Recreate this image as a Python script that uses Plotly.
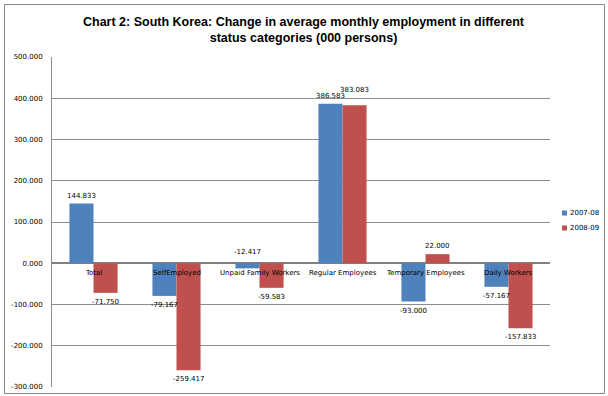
import plotly.graph_objects as go

categories = ["Total", "SelfEmployed", "Unpaid Family Workers", "Regular Employees",
              "Temporary Employees", "Daily Workers"]
series_names = ["2007-08", "2008-09"]
values_0708 = [144.833, -79.167, -12.417, 386.583, -93.000, -57.167]
values_0809 = [-71.750, -259.417, -59.583, 383.083, 22.000, -157.833]
y_ticks = [-300, -200, -100, 0, 100, 200, 300, 400, 500]
colors = ["#4F81BD", "#C0504D"]
title_text = ("<b>Chart 2: South Korea: Change in average monthly employment in different<br>"
              "status categories (000 persons)</b>")

W, H = 608, 396
ML, MR, MT, MB = 52, 58, 57, 9
PH = H - MT - MB
PW = W - ML - MR

def py(px):  # pixel y from top -> paper
    return (H - MB - px) / PH

def pxx(px):  # pixel x from left -> paper
    return (px - ML) / PW

small = dict(size=7, family="DejaVu Sans", color="#000000")

fig = go.Figure()
series = [values_0708, values_0809]
for i, (name, vals, col) in enumerate(zip(series_names, series, colors)):
    fig.add_trace(go.Bar(
        x=categories, y=vals, name=name, offsetgroup=str(i),
        marker=dict(color=col, line=dict(width=0)),
        showlegend=False,
    ))

# data labels
n = len(series)
for i, vals in enumerate(series):
    for j, (c, v) in enumerate(zip(categories, vals)):
        if v >= 0:
            y, ya, ys = v, "bottom", 2
            # avoid overlap with the neighbouring positive label
            if i > 0 and series[i - 1][j] >= 0 and abs(series[i - 1][j] - v) < 20:
                ys += 7
        elif v > -30:
            y, ya, ys = 0, "bottom", 5
        else:
            y, ya, ys = v, "top", -3
        fig.add_annotation(x=c, y=y, xref="x", yref="y", text=f"{v:.3f}", showarrow=False,
                           yanchor=ya, yshift=ys, xshift=(i - (n - 1) / 2) * 24, font=small)

# category labels next to the zero line
for c in categories:
    fig.add_annotation(x=c, y=0, xref="x", yref="y", text=c, showarrow=False,
                       yanchor="top", yshift=-4, font=small)

# title
fig.add_annotation(x=pxx(W / 2), y=py(30), xref="paper", yref="paper", text=title_text,
                   showarrow=False, xanchor="center", yanchor="middle",
                   font=dict(family="Liberation Sans", size=12.5, color="#000000"))

# legend (manual, small square markers)
shapes = []
for k, (name, col) in enumerate(zip(series_names, colors)):
    yc = 213 + 15 * k
    shapes.append(dict(type="rect", xref="paper", yref="paper",
                       x0=pxx(562), x1=pxx(567), y0=py(yc + 2.5), y1=py(yc - 2.5),
                       fillcolor=col, line=dict(width=0)))
    fig.add_annotation(x=pxx(568), y=py(yc), xref="paper", yref="paper", text=name,
                       showarrow=False, xanchor="left", yanchor="middle",
                       font=dict(size=7, family="DejaVu Sans", color="#000000"))

# chart border
shapes.append(dict(type="rect", xref="paper", yref="paper",
                   x0=pxx(4.5), x1=pxx(604.5), y0=py(393.5), y1=py(4.5),
                   line=dict(color="#888888", width=1)))

fig.update_layout(
    width=W, height=H,
    margin=dict(l=ML, r=MR, t=MT, b=MB, autoexpand=False),
    paper_bgcolor="white", plot_bgcolor="white",
    barmode="group", bargap=0.42, bargroupgap=0,
    showlegend=False,
    shapes=shapes,
)
fig.update_xaxes(showticklabels=False, showgrid=False, zeroline=False, showline=False, ticks="")
fig.update_yaxes(range=[-300, 500], tickvals=y_ticks, ticktext=[f"{v:.3f}" for v in y_ticks],
                 showgrid=True, gridcolor="#8C8C8C", gridwidth=1,
                 zeroline=True, zerolinecolor="#808080", zerolinewidth=2,
                 showline=True, linecolor="#8C8C8C", linewidth=1,
                 ticks="", ticklabelstandoff=7,
                 tickfont=small)

fig.write_html("out.html", config={"displayModeBar": False},
               post_script="document.body.style.margin='0';document.body.style.overflow='hidden';")
